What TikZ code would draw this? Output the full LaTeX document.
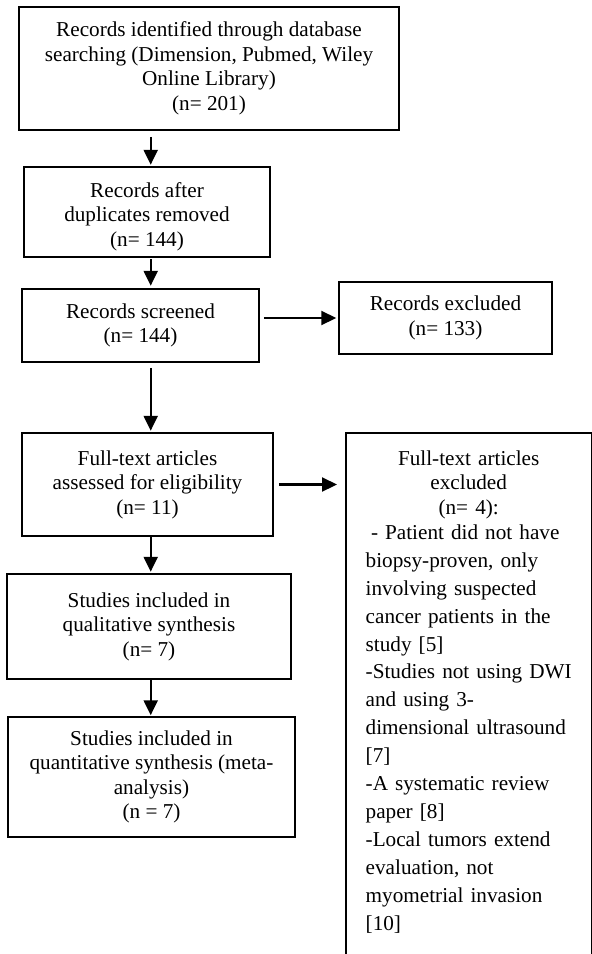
\documentclass[tikz,border=0pt]{standalone}
\usepackage{fontspec}
\setmainfont{Liberation Serif}
\usetikzlibrary{arrows.meta,calc}
\tikzset{
  box/.style={draw, line width=1.5pt, inner sep=0pt, align=center,
    font=\fontsize{21.2}{24.5}\selectfont},
  listbox/.style={inner xsep=19.5pt, inner ysep=17.5pt, text width=206pt,
    anchor=north west, font=\fontsize{21.2}{24.5}\selectfont},
  boxline/.style={line width=1.5pt},
  arr/.style={line width=2.2pt, -{Triangle[length=15pt,width=14pt]}},
}
\begin{document}
\begin{tikzpicture}[x=1pt,y=-1pt]
\useasboundingbox (0,0) rectangle (592,954);
\clip (0,0) rectangle (592,954);

\node[box, minimum width=380pt, minimum height=123pt] (b1) at (209,68.5)
  {Records identified through database\\ searching (Dimension, Pubmed, Wiley\\ Online Library)\\ (n= 201)};
\node[box, minimum width=246pt, minimum height=90pt] (b2) at (147,212)
  {\rule{0pt}{24pt}Records after\\ duplicates removed\\ (n= 144)};
\node[box, minimum width=237pt, minimum height=73pt] (b3) at (140.5,325.5)
  {Records screened\\ (n= 144)};
\node[box, minimum width=213pt, minimum height=72pt] (ex1) at (445.5,318)
  {Records excluded\\ (n= 133)};
\node[box, minimum width=251pt, minimum height=103pt] (b4) at (147.5,484.5)
  {Full-text articles\\ assessed for eligibility\\ (n= 11)};
\node[box, minimum width=284pt, minimum height=105pt] (b5) at (149,626.5)
  {Studies included in\\ qualitative synthesis\\ (n= 7)};
\node[box, minimum width=287pt, minimum height=120pt] (b6) at (151.5,777)
  {Studies included in\\ quantitative synthesis (meta-\\ analysis)\\ (n = 7)};

\node[listbox] (ex2) at (346,433) {%
  {\centering Full-text articles\\ excluded\\ (n= 4):\par}%
  \vspace{-2.9pt}%
  {\raggedright\baselineskip=27.9pt\hbadness=10000\hfuzz=50pt
  \mbox{\hspace*{0.25em}- Patient did not have}\\
  \mbox{biopsy-proven, only}\\
  \mbox{involving suspected}\\
  \mbox{cancer patients in the}\\
  \mbox{study [5]}\\
  \mbox{-Studies not using DWI}\\
  \mbox{and using 3-}\\
  \mbox{dimensional ultrasound}\\
  \mbox{[7]}\\
  \mbox{-A systematic review}\\
  \mbox{paper [8]}\\
  \mbox{-Local tumors extend}\\
  \mbox{evaluation, not}\\
  \mbox{myometrial invasion}\\
  \mbox{[10]}\par}};
\draw[boxline] ($(ex2.south west)+(0,30)$) -- (ex2.north west) -- (ex2.north east) -- ($(ex2.south east)+(0,30)$);

\coordinate (ax) at (150.7,0);
\draw[arr] ($(b1.south -| ax)+(0,6)$) -- ($(b2.north -| ax)+(0,-1.5)$);
\draw[arr] ($(b2.south -| ax)+(0,1.5)$) -- ($(b3.north -| ax)+(0,-2.5)$);
\draw[arr] ($(b3.south -| ax)+(0,5)$) -- ($(b4.north -| ax)+(0,-1.5)$);
\draw[arr] ($(b4.south -| ax)+(0,0.5)$) -- ($(b5.north -| ax)+(0,-1.5)$);
\draw[arr] ($(b5.south -| ax)+(0,0.5)$) -- ($(b6.north -| ax)+(0,-1)$);
\draw[arr] ($(b3.east |- ex1.west)+(4,0)$) -- ($(ex1.west)+(-2,0)$);
\draw[arr] ($(b4.east)+(5,0)$) -- ($(ex2.west |- b4.east)+(-9,0)$);
\end{tikzpicture}
\end{document}
